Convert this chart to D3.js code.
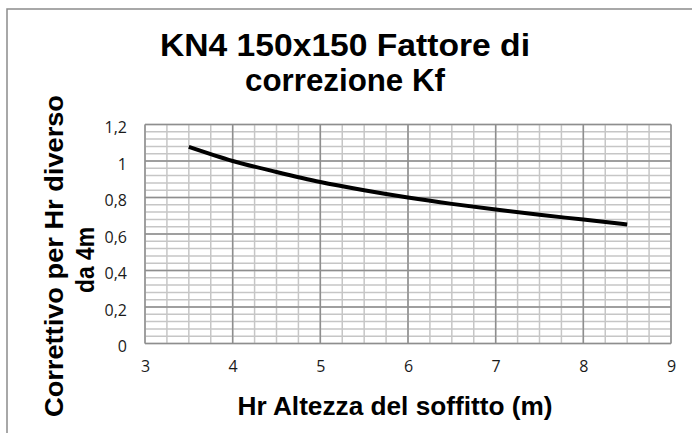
<!DOCTYPE html>
<html>
<head>
<meta charset="utf-8">
<script src="https://d3js.org/d3.v7.min.js"></script>
<style>
  body { margin: 0; background: #fff; }
  text { font-family: "Liberation Sans", Arial, sans-serif; }
  .tick text { font-family: "Open Sans", "DejaVu Sans", sans-serif; font-size: 16px; fill: #1a1a1a; }
</style>
</head>
<body>
<script>
// data
var hr = [3.5, 4, 4.5, 5, 5.5, 6, 6.5, 7, 7.5, 8, 8.5];
var kf = [1.077, 1.0, 0.94, 0.885, 0.84, 0.80, 0.765, 0.734, 0.705, 0.679, 0.652];
var xTicks = [3, 4, 5, 6, 7, 8, 9];
var yTicks = [0, 0.2, 0.4, 0.6, 0.8, 1, 1.2];
var titleLines = ["KN4 150x150  Fattore di", "correzione Kf"];
var yTitleLines = ["Correttivo per Hr diverso", "da 4m"];
var xTitle = "Hr Altezza del soffitto (m)";

var W = 692, H = 433;
var plot = {left: 145, right: 671, top: 124.5, bottom: 343.5};

var svg = d3.select("body").append("svg")
    .attr("width", W).attr("height", H);

// outer chart border (only top/left visible in the picture)
svg.append("rect")
    .attr("x", 7).attr("y", 9)
    .attr("width", 720).attr("height", 460)
    .attr("fill", "#fff")
    .attr("stroke", "#8c8c8c").attr("stroke-width", 1.5);

var x = d3.scaleLinear().domain([3, 9]).range([plot.left, plot.right]);
var y = d3.scaleLinear().domain([0, 1.2]).range([plot.bottom, plot.top]);

// minor grid
var g = svg.append("g");
g.selectAll("line.vminor")
    .data(d3.range(3, 9.001, 0.25))
    .enter().append("line")
    .attr("x1", function (d) { return x(d); })
    .attr("x2", function (d) { return x(d); })
    .attr("y1", plot.top).attr("y2", plot.bottom)
    .attr("stroke", "#c6c6c6").attr("stroke-width", 1.5);
g.selectAll("line.hminor")
    .data(d3.range(0, 1.2001, 0.04))
    .enter().append("line")
    .attr("y1", function (d) { return y(d); })
    .attr("y2", function (d) { return y(d); })
    .attr("x1", plot.left).attr("x2", plot.right)
    .attr("stroke", "#c6c6c6").attr("stroke-width", 1.5);

// major grid
g.selectAll("line.vmajor")
    .data(xTicks)
    .enter().append("line")
    .attr("x1", function (d) { return x(d); })
    .attr("x2", function (d) { return x(d); })
    .attr("y1", plot.top).attr("y2", plot.bottom)
    .attr("stroke", "#8e8e8e").attr("stroke-width", 1.5);
g.selectAll("line.hmajor")
    .data(yTicks)
    .enter().append("line")
    .attr("y1", function (d) { return y(d); })
    .attr("y2", function (d) { return y(d); })
    .attr("x1", plot.left).attr("x2", plot.right)
    .attr("stroke", "#8e8e8e").attr("stroke-width", 1.5);

// axes (labels only)
var fmt = function (d) { return String(d).replace(".", ","); };
var xAxis = svg.append("g")
    .attr("transform", "translate(0," + plot.bottom + ")")
    .call(d3.axisBottom(x).tickValues(xTicks).tickFormat(fmt).tickSize(0).tickPadding(17));
var yAxis = svg.append("g")
    .attr("transform", "translate(" + plot.left + ",3)")
    .call(d3.axisLeft(y).tickValues(yTicks).tickFormat(fmt).tickSize(0).tickPadding(18));
[xAxis, yAxis].forEach(function (a) {
    a.select(".domain").remove();
});

// data line
svg.append("path")
    .datum(d3.zip(hr, kf))
    .attr("fill", "none")
    .attr("stroke", "#000")
    .attr("stroke-width", 4)
    .attr("d", d3.line()
        .x(function (d) { return x(d[0]); })
        .y(function (d) { return y(d[1]); })
        .curve(d3.curveMonotoneX));

// title
var titleLen = [370, 200];
svg.selectAll("text.title")
    .data(titleLines)
    .enter().append("text")
    .attr("class", "title")
    .attr("x", 345)
    .attr("y", function (d, i) { return 56 + i * 35; })
    .attr("text-anchor", "middle")
    .attr("textLength", function (d, i) { return titleLen[i]; })
    .attr("lengthAdjust", "spacingAndGlyphs")
    .style("font-weight", "bold")
    .style("font-size", "31px")
    .text(function (d) { return d; });

// y axis title
var yTitleLen = [322, 66];
var yTitleMid = [256, 260];
svg.selectAll("text.ytitle")
    .data(yTitleLines)
    .enter().append("text")
    .attr("class", "ytitle")
    .attr("transform", function (d, i) {
        return "translate(" + (63 + i * 31) + "," + yTitleMid[i] + ") rotate(-90)";
    })
    .attr("text-anchor", "middle")
    .attr("textLength", function (d, i) { return yTitleLen[i]; })
    .attr("lengthAdjust", "spacingAndGlyphs")
    .style("font-weight", "bold")
    .style("font-size", "25px")
    .text(function (d) { return d; });

// x axis title
svg.append("text")
    .attr("x", 395).attr("y", 415)
    .attr("text-anchor", "middle")
    .attr("textLength", 315)
    .attr("lengthAdjust", "spacingAndGlyphs")
    .style("font-weight", "bold")
    .style("font-size", "25px")
    .text(xTitle);
</script>
</body>
</html>
